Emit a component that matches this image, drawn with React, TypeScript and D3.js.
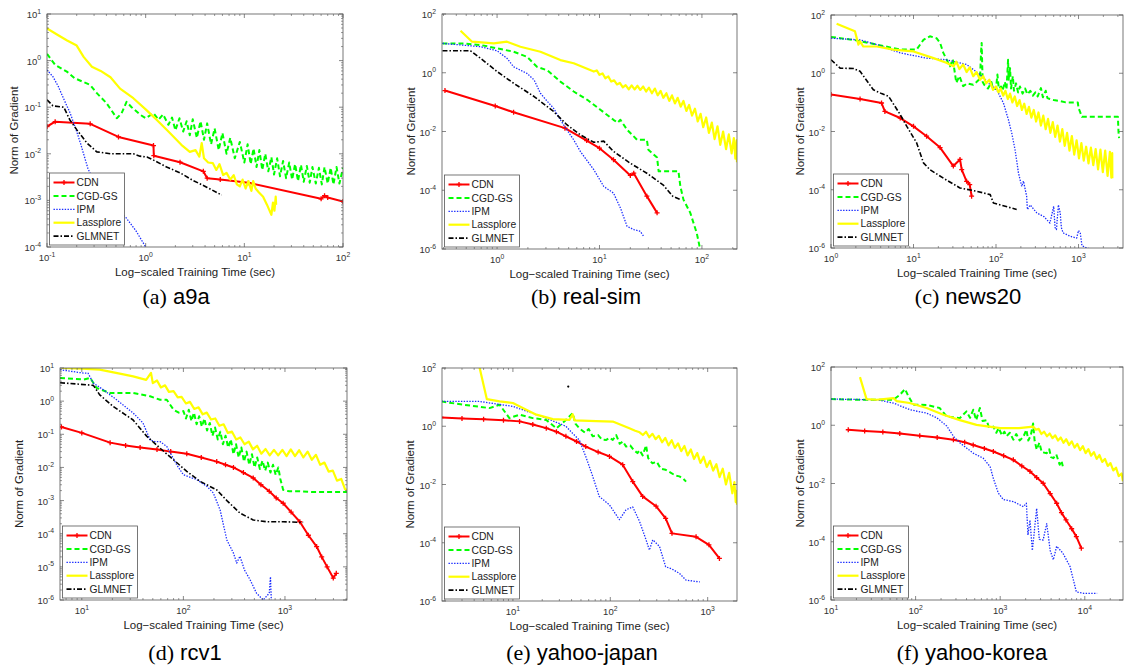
import React from "react"
import * as d3 from "d3"

type Pt = [number, number]

// values: [training time (sec), norm of gradient]

// (a) a9a
const a9aCDN: Pt[] = [[0.1, 0.0385], [0.121, 0.049], [0.274, 0.044], [0.53, 0.023], [1.2, 0.015], [1.21, 0.0091], [2.23, 0.0066], [3.84, 0.0042], [4.2, 0.003], [5.7, 0.0028], [11, 0.0024], [60, 0.00108], [65, 0.00126], [70, 0.00115], [100, 0.00095]]
const a9aCGD: Pt[] = [[0.1, 1.39], [0.121, 0.81], [0.159, 0.58], [0.19, 0.42], [0.274, 0.3], [0.32, 0.2], [0.4, 0.123], [0.51, 0.058], [0.57, 0.074], [0.64, 0.13], [0.72, 0.1], [0.88, 0.069], [1.0, 0.058], [1.2, 0.074], [1.35, 0.054], [1.5, 0.07], [1.7, 0.042], [1.85, 0.06], [2.0, 0.032], [2.2, 0.058], [2.4, 0.03], [2.6, 0.05], [2.8, 0.025], [3.0, 0.055], [3.3, 0.022], [3.6, 0.05], [3.9, 0.02], [4.2, 0.045], [4.6, 0.016], [5.0, 0.035], [5.5, 0.012], [6.0, 0.028], [6.6, 0.01], [7.2, 0.022], [8, 0.008], [9, 0.018], [10, 0.0065], [10.8, 0.016], [11.6, 0.006], [12.4, 0.013], [13.3, 0.0052], [14.2, 0.012], [15.2, 0.0045], [16.3, 0.01], [17.5, 0.0042], [18.8, 0.0085], [20, 0.0036], [21.5, 0.008], [23, 0.0033], [24.7, 0.007], [26.5, 0.003], [28.5, 0.0065], [30.5, 0.0028], [32.7, 0.006], [35, 0.0026], [37.5, 0.0058], [40, 0.0025], [43, 0.0055], [46, 0.0024], [49, 0.0052], [53, 0.0023], [57, 0.005], [61, 0.0022], [65, 0.0052], [70, 0.0023], [75, 0.005], [80, 0.0022], [86, 0.0052], [92, 0.0023], [100, 0.005]]
const a9aIPM: Pt[] = [[0.1, 0.63], [0.115, 0.45], [0.13, 0.28], [0.15, 0.14], [0.172, 0.074], [0.2, 0.03], [0.22, 0.016], [0.26, 0.0048], [0.3, 0.0025], [0.37, 0.0011], [0.45, 0.0007], [0.62, 0.00045], [0.8, 0.00022], [1.0, 0.0001], [1.2, 0.00005]]
const a9aLasso: Pt[] = [[0.1, 4.9], [0.13, 3.5], [0.16, 2.7], [0.2, 2.1], [0.235, 1.2], [0.285, 0.74], [0.35, 0.6], [0.44, 0.44], [0.55, 0.25], [0.75, 0.156], [1.0, 0.09], [1.29, 0.054], [1.7, 0.03], [2.3, 0.0156], [2.8, 0.011], [3.2, 0.012], [3.5, 0.0087], [3.7, 0.017], [3.9, 0.008], [4.3, 0.0065], [4.8, 0.0063], [5.2, 0.0045], [5.6, 0.006], [6.1, 0.0035], [6.6, 0.0039], [7.2, 0.0028], [7.8, 0.0035], [8.4, 0.0022], [9, 0.002], [9.6, 0.0028], [10.3, 0.0018], [11, 0.0026], [11.8, 0.0016], [12.3, 0.0026], [13, 0.0018], [14, 0.0015], [15.5, 0.0012], [17, 0.0008], [18.8, 0.00049], [19.5, 0.0009], [20.2, 0.0006], [20.8, 0.0012], [21, 0.0008]]
const a9aGLM: Pt[] = [[0.1, 0.144], [0.115, 0.107], [0.148, 0.1], [0.17, 0.054], [0.2, 0.033], [0.254, 0.017], [0.32, 0.011], [0.44, 0.01], [0.75, 0.01], [0.875, 0.0089], [1.03, 0.0085], [1.19, 0.0074], [1.63, 0.0052], [2.24, 0.0039], [3.0, 0.0027], [4.2, 0.0019], [5.9, 0.0013]]

// (b) real-sim
const realsimCDN: Pt[] = [[0.31, 0.248], [0.96, 0.074], [1.45, 0.045], [4.6, 0.013], [7.5, 0.0049], [10, 0.0027], [13.7, 0.0011], [20, 0.00032], [21.6, 0.00038], [29, 0.000063], [36.5, 0.000017]]
const realsimCGD: Pt[] = [[0.293, 10], [0.47, 10], [0.69, 8.8], [1, 6.8], [1.45, 5.2], [1.96, 3.5], [2.45, 1.6], [3.1, 1.2], [4.15, 0.5], [5.6, 0.23], [7.6, 0.12], [10.2, 0.055], [13.7, 0.025], [15, 0.02], [16, 0.025], [18.6, 0.0115], [21.6, 0.0068], [23.3, 0.0052], [29, 0.0052], [30, 0.0024], [36.5, 0.0013], [37.8, 0.00044], [59, 0.00044], [61.6, 0.000135], [66, 0.000048], [77, 0.000017], [89, 0.0000035], [96, 0.000001], [100, 0.0000005]]
const realsimIPM: Pt[] = [[0.293, 10], [0.69, 7.7], [1, 5.6], [1.25, 3.1], [1.45, 1.6], [1.96, 0.95], [2.3, 0.57], [2.65, 0.2], [3.1, 0.105], [3.56, 0.062], [4.15, 0.025], [4.8, 0.0115], [5.6, 0.0052], [6.5, 0.0021], [8.8, 0.0005], [11, 0.000135], [13.7, 0.00008], [16, 0.000025], [18.6, 0.0000059], [21.6, 0.0000046], [25, 0.000004], [27, 0.0000027]]
const realsimLasso: Pt[] = [[0.44, 27], [0.57, 11.4], [0.93, 10], [1.25, 11.4], [1.69, 7.7], [2.65, 5.2], [4.15, 2.7], [5.6, 2.1], [8.8, 1.1], [9.4, 1.2], [10, 0.85], [10.7, 0.95], [11.4, 0.65], [12.2, 0.75], [13, 0.5], [13.9, 0.55], [14.8, 0.4], [15.8, 0.45], [16.9, 0.32], [18, 0.38], [19.3, 0.27], [20.6, 0.37], [22, 0.27], [23.5, 0.36], [25, 0.26], [26.7, 0.34], [28.5, 0.23], [30.4, 0.31], [32.5, 0.2], [34.7, 0.29], [37, 0.17], [39.5, 0.24], [42, 0.14], [45, 0.2], [48, 0.11], [51, 0.17], [54.5, 0.09], [58, 0.14], [62, 0.07], [66, 0.11], [70.5, 0.05], [75, 0.08], [80, 0.035], [85.5, 0.06], [91, 0.022], [97, 0.04], [103, 0.014], [110, 0.03], [117, 0.009], [125, 0.02], [133, 0.0055], [142, 0.015], [151, 0.0035], [161, 0.01], [172, 0.0025], [183, 0.008], [195, 0.0018], [205, 0.006], [212, 0.0012], [218, 0.005], [220, 0.0009]]
const realsimGLM: Pt[] = [[0.293, 5.6], [0.55, 5.6], [0.69, 3.1], [1, 1.1], [1.45, 0.44], [2.3, 0.155], [3.56, 0.048], [4.8, 0.017], [6.5, 0.0077], [8.8, 0.0043], [11, 0.0047], [13.7, 0.0021], [20, 0.00083], [29, 0.00038], [42, 0.00015], [52, 0.000062], [61.6, 0.000048]]

// (c) news20
const news20CDN: Pt[] = [[1, 0.185], [2.25, 0.13], [4.1, 0.095], [4.5, 0.049], [6.9, 0.029], [10, 0.015], [14.4, 0.0069], [21, 0.0028], [30.4, 0.00065], [36.6, 0.0011], [38.4, 0.00049], [44, 0.000195], [48, 0.00015], [50.6, 0.00006]]
const news20CGD: Pt[] = [[1, 17.6], [1.87, 14], [3.6, 9.6], [6.9, 6.5], [10.9, 6.5], [13.2, 14], [15.8, 18.6], [19, 16], [21, 11], [23, 5], [27.6, 1.74], [30, 3], [33, 0.47], [36, 0.8], [40, 0.36], [45, 0.45], [53, 0.4], [58, 0.5], [64, 0.65], [66, 6], [67, 11], [68, 2], [69, 0.5], [72, 0.4], [80, 0.3], [88, 0.5], [92, 0.28], [100, 0.3], [104, 0.9], [108, 0.3], [115, 0.35], [120, 0.25], [128, 0.5], [134, 0.28], [140, 2.9], [142, 0.6], [148, 1.5], [152, 0.3], [160, 0.79], [165, 0.25], [175, 0.45], [185, 0.22], [195, 0.35], [210, 0.2], [225, 0.3], [240, 0.19], [260, 0.25], [280, 0.17], [300, 0.22], [320, 0.16], [350, 0.31], [370, 0.15], [400, 0.25], [420, 0.14], [450, 0.13], [500, 0.12], [600, 0.11], [700, 0.1], [980, 0.1], [1000, 0.064], [1050, 0.045], [1100, 0.032], [3000, 0.032], [3050, 0.01], [3100, 0.0059]]
const news20IPM: Pt[] = [[1, 16], [2.25, 14], [3.6, 9.6], [6.9, 5], [14.4, 3.3], [25, 2.9], [44, 2], [64, 0.9], [85, 0.41], [102, 0.27], [123, 0.095], [141, 0.026], [155, 0.0089], [170, 0.0024], [187, 0.00038], [205, 0.00013], [215, 0.0002], [235, 0.00006], [240, 0.000021], [260, 0.00003], [312, 0.000016], [380, 0.000012], [450, 0.0000072], [500, 0.000027], [520, 0.000005], [540, 0.0000043], [570, 0.00003], [600, 0.000016], [620, 0.000005], [650, 0.0000033], [800, 0.0000025], [950, 0.0000022], [1000, 0.000004], [1050, 0.0000033], [1100, 0.0000012], [1250, 0.000001], [1510, 0.0000009]]
const news20Lasso: Pt[] = [[1.17, 50], [1.95, 27.5], [2.15, 9.6], [2.25, 12.5], [2.46, 8.3], [3.6, 8.3], [5.7, 6.5], [10, 5.6], [17.5, 3.3], [25, 2.3], [30.5, 1.73], [33, 2.5], [36, 1.4], [40, 2], [44, 1.1], [48, 1.6], [53, 0.79], [58, 1.1], [64, 0.6], [70, 0.8], [76, 0.45], [83, 0.6], [92, 0.27], [100, 0.35], [107, 0.22], [114, 0.3], [122, 0.17], [130, 0.25], [139, 0.13], [148, 0.2], [158, 0.1], [169, 0.16], [180, 0.075], [193, 0.12], [206, 0.055], [220, 0.09], [235, 0.04], [251, 0.07], [268, 0.03], [287, 0.055], [306, 0.022], [327, 0.045], [350, 0.016], [374, 0.035], [400, 0.012], [427, 0.027], [456, 0.009], [488, 0.021], [521, 0.0065], [557, 0.016], [595, 0.0045], [636, 0.012], [680, 0.0032], [727, 0.009], [777, 0.0022], [830, 0.007], [887, 0.0016], [948, 0.005], [1013, 0.0012], [1083, 0.004], [1157, 0.001], [1237, 0.003], [1322, 0.0008], [1413, 0.0028], [1510, 0.0007], [1614, 0.0025], [1725, 0.0005], [1843, 0.0024], [1970, 0.0004], [2105, 0.0022], [2250, 0.0003], [2400, 0.002], [2500, 0.00026], [2560, 0.0018], [2570, 0.00025]]
const news20GLM: Pt[] = [[1, 2.9], [1.29, 1.5], [1.87, 1.45], [2.25, 1.17], [3.26, 0.27], [4.1, 0.2], [5, 0.16], [6.9, 0.038], [8.3, 0.015], [10.9, 0.0041], [13.2, 0.00084], [15.8, 0.00049], [23, 0.00025], [36.6, 0.000115], [58, 0.000089], [85, 0.000068], [93, 0.000035], [178, 0.000021]]

// (d) rcv1
const rcv1CDN: Pt[] = [[6.3, 0.166], [10, 0.11], [19, 0.056], [27, 0.046], [37.5, 0.04], [55, 0.035], [75, 0.03], [108, 0.026], [150, 0.02], [213, 0.015], [260, 0.012], [311, 0.01], [390, 0.007], [487, 0.0048], [580, 0.003], [700, 0.0019], [820, 0.0012], [960, 0.00083], [1150, 0.00045], [1400, 0.00023], [1700, 0.00009], [2050, 0.000041], [2300, 0.00002], [2600, 0.00001], [2990, 0.0000046], [3200, 0.0000064]]
const rcv1CGD: Pt[] = [[6.1, 5], [10.4, 4.5], [12.1, 5], [14, 2.5], [19, 1.76], [32, 1.76], [47, 1.4], [59, 1.1], [68.6, 1.1], [80, 0.55], [90, 0.45], [100, 0.5], [106, 0.3], [113, 0.55], [120, 0.25], [127, 0.45], [135, 0.2], [143, 0.35], [152, 0.17], [161, 0.3], [171, 0.13], [182, 0.22], [193, 0.09], [205, 0.16], [218, 0.07], [231, 0.12], [245, 0.05], [260, 0.09], [276, 0.04], [293, 0.07], [311, 0.025], [330, 0.05], [350, 0.02], [372, 0.04], [395, 0.015], [419, 0.03], [445, 0.012], [473, 0.025], [502, 0.01], [533, 0.02], [566, 0.009], [601, 0.016], [638, 0.008], [677, 0.014], [719, 0.007], [763, 0.012], [810, 0.006], [860, 0.01], [900, 0.0045], [960, 0.0021], [1100, 0.0019], [1400, 0.0019], [2000, 0.0018], [4080, 0.0018]]
const rcv1IPM: Pt[] = [[6.1, 8.9], [10.4, 7], [11.5, 7], [13, 3.5], [16.3, 2.2], [22, 1.1], [32, 0.44], [40, 0.22], [47, 0.068], [52, 0.06], [59, 0.06], [68.6, 0.043], [86, 0.012], [100, 0.006], [135, 0.0043], [170, 0.0027], [197, 0.0017], [230, 0.00052], [268, 0.000064], [311, 0.000026], [335, 0.000013], [360, 0.000021], [400, 0.000008], [453, 0.0000041], [525, 0.0000016], [610, 0.000001], [700, 0.0000016], [720, 0.000005], [730, 0.0000015], [740, 0.0000005]]
const rcv1Lasso: Pt[] = [[6.3, 10], [10, 9.5], [15, 8.9], [25, 6.5], [32, 5.6], [43, 4.4], [48, 7.1], [50, 3.5], [55, 4.2], [60, 2.6], [66, 3.0], [72, 1.9], [80, 2.0], [88, 1.3], [96, 1.35], [106, 0.85], [116, 0.95], [128, 0.58], [141, 0.65], [155, 0.4], [170, 0.45], [187, 0.28], [206, 0.3], [226, 0.18], [249, 0.2], [274, 0.11], [301, 0.12], [331, 0.07], [364, 0.08], [400, 0.05], [440, 0.06], [484, 0.035], [532, 0.045], [585, 0.026], [644, 0.036], [708, 0.023], [779, 0.034], [857, 0.023], [943, 0.034], [1037, 0.022], [1141, 0.035], [1255, 0.022], [1380, 0.033], [1518, 0.02], [1670, 0.03], [1837, 0.017], [2020, 0.024], [2222, 0.012], [2444, 0.014], [2690, 0.0075], [2960, 0.008], [3250, 0.004], [3580, 0.0045], [3900, 0.0022], [4080, 0.0021]]
const rcv1GLM: Pt[] = [[6.1, 3.6], [13, 3.0], [15, 1.55], [20.5, 0.68], [32, 0.27], [43.5, 0.088], [59, 0.038], [80, 0.017], [108, 0.0076], [146, 0.0038], [213, 0.0021], [268, 0.001], [360, 0.00042], [487, 0.00026], [660, 0.00023], [960, 0.00023], [1510, 0.00022]]

// (e) yahoo-japan
const yjCDN: Pt[] = [[1.84, 2.0], [3, 1.85], [5, 1.75], [8, 1.6], [11.7, 1.47], [16, 1.15], [22, 0.86], [28, 0.65], [35, 0.45], [45, 0.3], [56, 0.2], [75, 0.13], [98, 0.092], [134, 0.048], [170, 0.0126], [215, 0.0039], [295, 0.0018], [370, 0.00069], [430, 0.00021], [760, 0.00016], [1030, 0.000085], [1320, 0.000029]]
const yjCGD: Pt[] = [[1.84, 7.1], [3.07, 5.5], [5.75, 4.2], [7.3, 5.5], [9.2, 1.9], [11.7, 2.5], [16, 1.9], [22, 1.65], [28, 0.85], [35, 1.65], [41, 2.8], [44, 1.2], [48, 0.86], [55, 0.6], [60, 0.8], [66, 0.45], [75, 0.5], [82, 0.35], [91, 0.34], [98, 0.4], [106, 0.34], [115, 0.5], [125, 0.25], [135, 0.3], [145, 0.2], [160, 0.22], [175, 0.15], [190, 0.12], [200, 0.15], [215, 0.1], [233, 0.22], [245, 0.08], [270, 0.054], [300, 0.06], [330, 0.035], [370, 0.032], [420, 0.025], [470, 0.02], [513, 0.019], [560, 0.016], [600, 0.0126]]
const yjIPM: Pt[] = [[1.84, 7.1], [4.55, 7.1], [10, 4.8], [22, 1.9], [35, 1], [41, 0.57], [48, 0.34], [56, 0.091], [66, 0.019], [77, 0.0039], [98, 0.002], [124, 0.00062], [145, 0.00135], [170, 0.0017], [200, 0.00053], [233, 0.000126], [252, 0.000056], [273, 0.000126], [320, 0.000075], [370, 0.000015], [430, 0.0000125], [513, 0.0000089], [600, 0.0000052], [830, 0.0000045]]
const yjLasso: Pt[] = [[4.5, 120], [5.4, 8.5], [7.3, 7.1], [10, 6.3], [13.7, 3.7], [17.4, 2.5], [25.7, 1.75], [38, 1.65], [41, 2.6], [43, 1.6], [71.6, 1.5], [106, 1.45], [130, 1.1], [157, 0.85], [180, 0.7], [200, 0.62], [216, 0.5], [233, 0.65], [251, 0.42], [271, 0.55], [292, 0.36], [315, 0.47], [340, 0.28], [367, 0.4], [396, 0.22], [427, 0.33], [460, 0.18], [496, 0.26], [535, 0.14], [577, 0.21], [622, 0.1], [671, 0.16], [724, 0.075], [781, 0.12], [842, 0.055], [908, 0.09], [979, 0.04], [1056, 0.065], [1139, 0.03], [1228, 0.05], [1324, 0.018], [1428, 0.035], [1540, 0.01], [1661, 0.025], [1791, 0.005], [1880, 0.012], [1940, 0.0025], [1990, 0.006], [2000, 0.002]]
const yjGLM: Pt[] = [[37, 23]]

// (f) yahoo-korea
const ykCDN: Pt[] = [[16, 0.7], [25, 0.64], [41, 0.59], [65, 0.52], [112, 0.44], [180, 0.38], [280, 0.32], [380, 0.26], [480, 0.21], [650, 0.16], [830, 0.126], [1100, 0.09], [1430, 0.065], [1800, 0.04], [2250, 0.026], [2700, 0.016], [3220, 0.0102], [3900, 0.0045], [4650, 0.0021], [5300, 0.001], [6000, 0.00056], [7000, 0.00028], [7950, 0.00015], [9100, 0.00006]]
const ykCGD: Pt[] = [[10, 7.9], [22, 7.5], [54.5, 7.5], [65, 11], [75, 17.5], [82, 10], [94, 5.1], [135, 5], [193, 3.9], [233, 2], [333, 1.75], [400, 3], [440, 1.8], [480, 3.4], [520, 1.5], [575, 3.9], [620, 1.4], [690, 1.5], [740, 0.8], [830, 0.9], [900, 0.55], [960, 0.8], [1050, 0.45], [1120, 0.6], [1190, 0.42], [1300, 0.55], [1430, 0.32], [1550, 0.5], [1700, 0.3], [1880, 0.4], [2040, 0.7], [2150, 0.3], [2300, 0.45], [2450, 1.15], [2550, 0.3], [2700, 0.145], [2900, 0.25], [3100, 0.12], [3550, 0.11], [3800, 0.15], [4000, 0.08], [4250, 0.074], [4600, 0.1], [5050, 0.044], [5300, 0.06], [5500, 0.039]]
const ykIPM: Pt[] = [[10, 7.9], [34.6, 7.5], [54.5, 5.8], [86, 3.4], [135, 2.6], [178, 1.8], [233, 0.95], [280, 0.42], [333, 0.25], [480, 0.11], [630, 0.074], [760, 0.038], [830, 0.015], [950, 0.0047], [1090, 0.0028], [1430, 0.0024], [1880, 0.0016], [2040, 0.0021], [2130, 0.00017], [2250, 0.00055], [2400, 0.00005], [2700, 0.0014], [2900, 0.00012], [3220, 0.000115], [3550, 0.00042], [3900, 0.00005], [4250, 0.000024], [4650, 0.00007], [5500, 0.000041], [6700, 0.000014], [7950, 0.0000019], [9700, 0.0000017], [14000, 0.0000017]]
const ykLasso: Pt[] = [[22, 45], [26.3, 7.9], [34.6, 7.5], [54.5, 8.6], [60, 6.7], [85, 5.8], [135, 3.9], [213, 2.3], [333, 1.5], [525, 1.03], [1000, 0.8], [1670, 0.8], [2450, 0.9], [2640, 0.7], [2850, 0.75], [3070, 0.5], [3310, 0.6], [3570, 0.42], [3850, 0.52], [4150, 0.36], [4470, 0.45], [4820, 0.3], [5200, 0.38], [5600, 0.25], [6040, 0.33], [6510, 0.21], [7020, 0.28], [7570, 0.17], [8160, 0.23], [8800, 0.14], [9490, 0.19], [10230, 0.11], [11030, 0.15], [11890, 0.09], [12820, 0.12], [13820, 0.07], [14900, 0.095], [16060, 0.055], [17320, 0.07], [18670, 0.04], [20130, 0.05], [21700, 0.028], [23400, 0.035], [25200, 0.018], [27200, 0.022], [28300, 0.012]]
const ykGLM: Pt[] = []

const seriesNames = ["CDN", "CGD-GS", "IPM", "Lassplore", "GLMNET"]
const seriesStyle = [
  { color: "#ff0000", width: 2, dash: "" },
  { color: "#00ff00", width: 2, dash: "5,3" },
  { color: "#1a2cff", width: 1.3, dash: "1.4,1.4" },
  { color: "#ffff00", width: 2.2, dash: "" },
  { color: "#000000", width: 1.6, dash: "5,2,1.5,2" },
]

const panels = [
  { tag: "(a)", name: "a9a", data: [a9aCDN, a9aCGD, a9aIPM, a9aLasso, a9aGLM], xDomain: [0.1, 100], yDomain: [1e-4, 10], yStep: 1, frame: [47, 14, 343, 247], yLabelX: 14, capX: 176, capY: 304 },
  { tag: "(b)", name: "real-sim", data: [realsimCDN, realsimCGD, realsimIPM, realsimLasso, realsimGLM], xDomain: [0.29, 220], yDomain: [1e-6, 100], yStep: 2, frame: [442, 14, 737, 249], yLabelX: 411, capX: 586, capY: 304 },
  { tag: "(c)", name: "news20", data: [news20CDN, news20CGD, news20IPM, news20Lasso, news20GLM], xDomain: [1, 3460], yDomain: [1e-6, 100], yStep: 2, frame: [831, 15, 1123, 248], yLabelX: 800, capX: 968, capY: 304 },
  { tag: "(d)", name: "rcv1", data: [rcv1CDN, rcv1CGD, rcv1IPM, rcv1Lasso, rcv1GLM], xDomain: [6.1, 4080], yDomain: [1e-6, 10], yStep: 1, frame: [60, 368, 347, 600], yLabelX: 19, capX: 185, capY: 660 },
  { tag: "(e)", name: "yahoo-japan", data: [yjCDN, yjCGD, yjIPM, yjLasso, yjGLM], xDomain: [1.87, 2000], yDomain: [1e-6, 100], yStep: 2, frame: [442, 368, 737, 601], yLabelX: 410, capX: 582, capY: 660 },
  { tag: "(f)", name: "yahoo-korea", data: [ykCDN, ykCGD, ykIPM, ykLasso, ykGLM], xDomain: [10, 28300], yDomain: [1e-6, 100], yStep: 2, frame: [831, 367, 1123, 600], yLabelX: 800, capX: 972, capY: 660 },
]

const axisFont = "Liberation Sans, Arial, Helvetica, sans-serif"
const frameColor = "#555"

function decades(domain: number[]) {
  const lo = Math.ceil(Math.log10(domain[0]) - 1e-6)
  const hi = Math.floor(Math.log10(domain[1]) + 1e-6)
  return d3.range(lo, hi + 1)
}

function minorTicks(domain: number[]) {
  const out: number[] = []
  const lo = Math.floor(Math.log10(domain[0]))
  const hi = Math.ceil(Math.log10(domain[1]))
  for (let k = lo; k <= hi; k++) {
    for (let m = 2; m <= 9; m++) {
      const v = m * Math.pow(10, k)
      if (v > domain[0] && v < domain[1]) out.push(v)
    }
  }
  return out
}

function Pow10({ x, y, e, anchor }: { x: number; y: number; e: number; anchor: string }) {
  return (
    <text x={x} y={y} fontSize={9.5} fill="#333" fontFamily={axisFont} textAnchor={anchor}>
      10<tspan dy={-4.5} fontSize={6.8}>{e}</tspan>
    </text>
  )
}

function Panel({ p, idx }: { p: any; idx: number }) {
  const [l, t, r, b] = p.frame
  const x = d3.scaleLog().domain(p.xDomain).range([l, r])
  const y = d3.scaleLog().domain(p.yDomain).range([b, t])
  const line = d3.line<Pt>().x(d => x(d[0])).y(d => y(d[1]))
  const clipId = "clip" + idx
  const xMajor = decades(p.xDomain)
  const yMajor = decades(p.yDomain).filter(k => k % p.yStep === 0)
  const xMinor = minorTicks(p.xDomain)
  const yMinor = p.yStep === 1 ? minorTicks(p.yDomain) : []
  const lg = { x: l + 2.5, y: b - 74, w: 75, h: 72 }

  return (
    <g>
      <defs>
        <clipPath id={clipId}>
          <rect x={l} y={t} width={r - l} height={b - t} />
        </clipPath>
      </defs>
      <g clipPath={`url(#${clipId})`}>
        {p.data.map((pts: Pt[], i: number) => {
          const s = seriesStyle[i]
          if (pts.length === 1) {
            return <circle key={i} cx={x(pts[0][0])} cy={y(pts[0][1])} r={1.1} fill={s.color} />
          }
          return (
            <g key={i}>
              <path d={line(pts) || ""} fill="none" stroke={s.color} strokeWidth={s.width}
                strokeDasharray={s.dash || undefined} strokeLinejoin="round" />
              {i === 0 && pts.map((d, j) => (
                <path key={j} d={`M${x(d[0]) - 2.5},${y(d[1])}h5M${x(d[0])},${y(d[1]) - 2.5}v5`}
                  stroke={s.color} strokeWidth={1.3} />
              ))}
            </g>
          )
        })}
      </g>

      <rect x={l} y={t} width={r - l} height={b - t} fill="none" stroke={frameColor} strokeWidth={0.8} />
      {xMajor.map(k => (
        <g key={"xm" + k}>
          <line x1={x(Math.pow(10, k))} x2={x(Math.pow(10, k))} y1={b} y2={b - 4} stroke={frameColor} strokeWidth={0.7} />
          <line x1={x(Math.pow(10, k))} x2={x(Math.pow(10, k))} y1={t} y2={t + 4} stroke={frameColor} strokeWidth={0.7} />
          <Pow10 x={x(Math.pow(10, k))} y={b + 14} e={k} anchor="middle" />
        </g>
      ))}
      {xMinor.map((v, j) => (
        <g key={"xn" + j}>
          <line x1={x(v)} x2={x(v)} y1={b} y2={b - 2} stroke={frameColor} strokeWidth={0.6} />
          <line x1={x(v)} x2={x(v)} y1={t} y2={t + 2} stroke={frameColor} strokeWidth={0.6} />
        </g>
      ))}
      {yMajor.map(k => (
        <g key={"ym" + k}>
          <line x1={l} x2={l + 4} y1={y(Math.pow(10, k))} y2={y(Math.pow(10, k))} stroke={frameColor} strokeWidth={0.7} />
          <line x1={r} x2={r - 4} y1={y(Math.pow(10, k))} y2={y(Math.pow(10, k))} stroke={frameColor} strokeWidth={0.7} />
          <Pow10 x={l - 6} y={y(Math.pow(10, k)) + 4} e={k} anchor="end" />
        </g>
      ))}
      {yMinor.map((v, j) => (
        <g key={"yn" + j}>
          <line x1={l} x2={l + 2} y1={y(v)} y2={y(v)} stroke={frameColor} strokeWidth={0.6} />
          <line x1={r} x2={r - 2} y1={y(v)} y2={y(v)} stroke={frameColor} strokeWidth={0.6} />
        </g>
      ))}

      <text x={(l + r) / 2} y={b + 29} fontSize={11.5} fontFamily={axisFont} fill="#222" textAnchor="middle">
        Log−scaled Training Time (sec)
      </text>
      <text transform={`translate(${p.yLabelX},${(t + b) / 2}) rotate(-90)`} fontSize={11.5} fontFamily={axisFont}
        fill="#222" textAnchor="middle" dy="0.35em">
        Norm of Gradient
      </text>

      <rect x={lg.x} y={lg.y} width={lg.w} height={lg.h} fill="#fff" stroke={frameColor} strokeWidth={0.8} />
      {seriesNames.map((nm, i) => {
        const s = seriesStyle[i]
        const ry = lg.y + 9.5 + i * 13.4
        return (
          <g key={nm}>
            <line x1={lg.x + 4} x2={lg.x + 25} y1={ry} y2={ry} stroke={s.color} strokeWidth={s.width}
              strokeDasharray={s.dash || undefined} />
            {i === 0 && (
              <path d={`M${lg.x + 12},${ry}h5M${lg.x + 14.5},${ry - 2.5}v5`} stroke={s.color} strokeWidth={1.3} />
            )}
            <text x={lg.x + 27} y={ry + 3.6} fontSize={10.3} fontFamily={axisFont} fill="#222">{nm}</text>
          </g>
        )
      })}

      <text x={p.capX} y={p.capY} fontSize={22} textAnchor="middle" fill="#000">
        <tspan fontFamily="Liberation Serif, Times New Roman, serif">{p.tag}</tspan>
        <tspan fontFamily="Liberation Sans, Arial, sans-serif">{" " + p.name}</tspan>
      </text>
    </g>
  )
}

export default function App() {
  return (
    <svg width={1124} height={671} style={{ position: "absolute", left: 0, top: 0, background: "#fff" }}>
      <rect width={1124} height={671} fill="#fff" />
      {panels.map((p, i) => (
        <Panel key={i} p={p} idx={i} />
      ))}
    </svg>
  )
}
